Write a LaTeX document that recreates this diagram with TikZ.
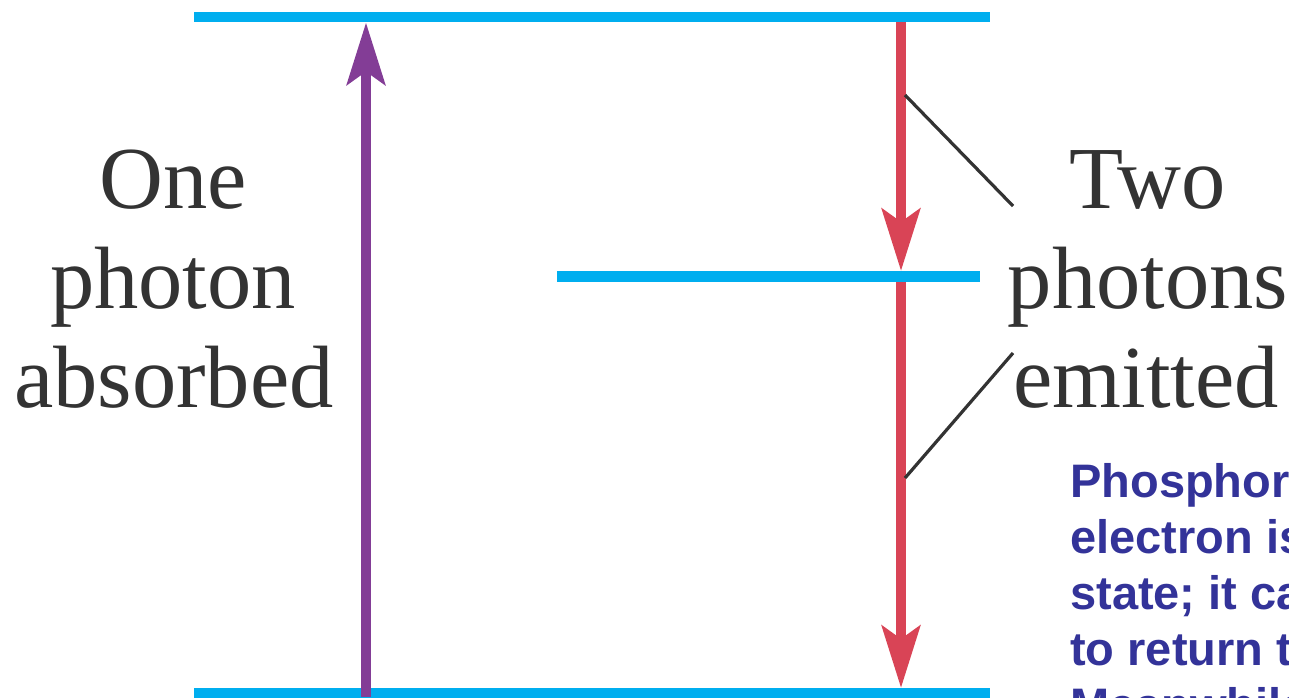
\documentclass[tikz,border=0pt]{standalone}
\usepackage{fontspec}
\setmainfont{Liberation Serif}
\newfontfamily\notefont{Liberation Sans}
\usetikzlibrary{arrows.meta}
\definecolor{levelblue}{HTML}{00AEEF}
\definecolor{absorbpurple}{HTML}{833D96}
\definecolor{emitred}{HTML}{D94456}
\definecolor{txtgray}{HTML}{333333}
\definecolor{noteblue}{HTML}{333399}
\begin{document}
\begin{tikzpicture}[x=1pt,y=-1pt,
  level/.style={draw=levelblue, line width=10.5pt},
  upphoton/.style={draw=absorbpurple, line width=10.5pt, -{Stealth[length=62pt,width=38pt,inset=13pt]}},
  downphoton/.style={draw=emitred, line width=10.5pt, -{Stealth[length=62pt,width=38pt,inset=13pt]}},
  pointer/.style={draw=txtgray, line width=3.2pt},
  bigword/.style={anchor=base, inner sep=0pt, text=txtgray, font=\fontsize{88.5}{100}\selectfont},
  noteline/.style={anchor=base west, inner sep=0pt, text=noteblue, font=\notefont\bfseries\fontsize{47}{56}\selectfont}]
\useasboundingbox (0,0) rectangle (1289,697);
\clip (0,0) rectangle (1289,697);
% energy levels
\coordinate (T1) at (194,17);   \coordinate (T2) at (990,17);
\coordinate (M1) at (557,276.5); \coordinate (M2) at (980,276.5);
\coordinate (B1) at (194,693);  \coordinate (B2) at (990,693);
\draw[level] (T1) -- (T2);
\draw[level] (M1) -- (M2);
\draw[level] (B1) -- (B2);
% photon arrows
\coordinate (absS) at (366,697); \coordinate (absE) at (366,22.5);
\coordinate (em1S) at (901,22);  \coordinate (em1E) at (901,271);
\coordinate (em2S) at (901,282); \coordinate (em2E) at (901,688);
\draw[upphoton] (absS) -- (absE);
\draw[downphoton] (em1S) -- (em1E);
\draw[downphoton] (em2S) -- (em2E);
% pointer lines
\coordinate (p1a) at (905,95);  \coordinate (p1b) at (1013,206);
\coordinate (p2a) at (905,478); \coordinate (p2b) at (1013,353);
\draw[pointer] (p1a) -- (p1b);
\draw[pointer] (p2a) -- (p2b);
% labels
\node[bigword] (one) at (173,208) {One};
\node[bigword] (photon) at (173,308) {photon};
\node[bigword] (absorbed) at (174,407) {absorbed};
\node[bigword] (two) at (1148,208) {Two};
\node[bigword] (photons) at (1148,308) {photons};
\node[bigword] (emitted) at (1146,407) {emitted};
% note (cut off at the right edge, as in the reference)
\node[noteline] (n1) at (1070,497) {Phosphorescence};
\node[noteline] (n2) at (1070,553) {electron is};
\node[noteline] (n3) at (1070,609) {state; it can};
\node[noteline] (n4) at (1070,665) {to return to};
\node[noteline] (n5) at (1070,721) {Meanwhile};
\end{tikzpicture}
\end{document}
